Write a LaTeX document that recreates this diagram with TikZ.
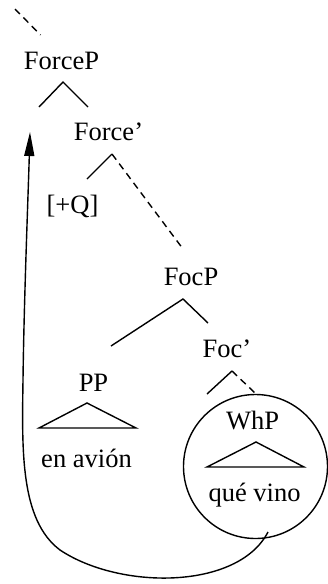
\documentclass[tikz,border=0pt]{standalone}
\usepackage{fontspec}
\setmainfont{Liberation Serif}
\usetikzlibrary{arrows.meta}
\tikzset{
  lbl/.style={anchor=base,inner sep=0pt,font=\fontsize{26.5}{30}\selectfont},
  branch/.style={line width=1.4pt},
  dashbranch/.style={line width=1.4pt,dash pattern=on 7pt off 5pt},
  mov/.style={line width=1.4pt,-{Triangle[length=24pt,width=10pt]}}
}
\begin{document}
\begin{tikzpicture}[x=1pt,y=-1pt]
\useasboundingbox (0,0) rectangle (328,584);
% labels
\node[lbl] (forcep) at (61.5,69) {ForceP};
\node[lbl] (forcebar) at (108.5,140) {Force’};
\node[lbl] (q) at (72.5,213) {[+Q]};
\node[lbl] (focp) at (191,285) {FocP};
\node[lbl] (focbar) at (227,357) {Foc’};
\node[lbl] (pp) at (93.5,391) {PP};
\node[lbl] (enavion) at (86.5,467) {en avión};
\node[lbl] (whp) at (252.5,429) {WhP};
\node[lbl] (quevino) at (254.5,501) {qué vino};
% coordinates
\coordinate (top0) at (15,9);
\coordinate (top1) at (40.5,35);
\coordinate (fpA) at (63,82);
\coordinate (fpL) at (39,107);
\coordinate (fpR) at (88,107);
\coordinate (fbA) at (112,154);
\coordinate (fbL) at (87,179);
\coordinate (fbR) at (183,249);
\coordinate (fcA) at (183,299);
\coordinate (fcL) at (111,346);
\coordinate (fcR) at (208,323);
\coordinate (fkA) at (232,371);
\coordinate (fkL) at (207,394);
\coordinate (fkR) at (255,393);
\coordinate (ppA) at (87,403);
\coordinate (ppL) at (39,428);
\coordinate (ppR) at (136,428);
\coordinate (whA) at (256,442);
\coordinate (whL) at (207,467);
\coordinate (whR) at (304,467);
\coordinate (circC) at (255.5,466.5);
\coordinate (movS) at (268,532);
\coordinate (movT) at (30,132);
% tree
\draw[dashbranch] (top0) -- (top1);
\draw[branch] (fpL) -- (fpA) -- (fpR);
\draw[branch] (fbL) -- (fbA);
\draw[dashbranch] (fbA) -- (fbR);
\draw[branch] (fcL) -- (fcA) -- (fcR);
\draw[branch] (fkL) -- (fkA);
\draw[dashbranch] (fkA) -- (fkR);
\draw[branch] (ppA) -- (ppL) -- (ppR) -- cycle;
\draw[branch] (whA) -- (whL) -- (whR) -- cycle;
\draw[branch] (circC) circle[radius=72pt];
% movement arrow
\draw[mov] (movS) .. controls (238,590) and (120,590) .. (60,550)
  .. controls (20,520) and (22,450) .. (23,380)
  .. controls (24,300) and (28,200) .. (movT);
\end{tikzpicture}
\end{document}
